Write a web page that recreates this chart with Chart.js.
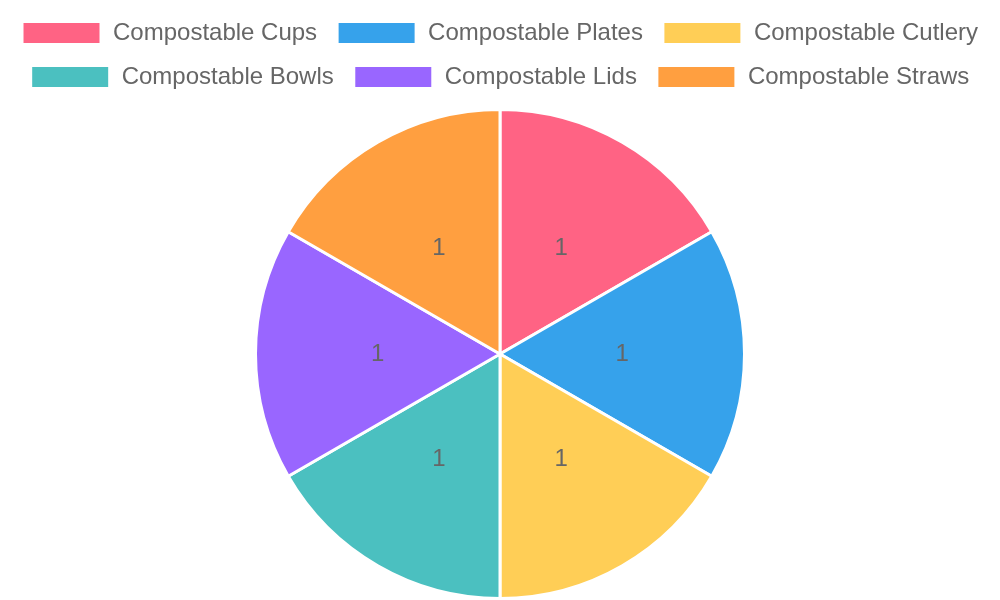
<!DOCTYPE html>
<html>
<head>
<meta charset="utf-8">
<script src="https://cdn.jsdelivr.net/npm/chart.js@4"></script>
<style>
  html, body { margin: 0; padding: 0; background: #fff; }
  #wrap { width: 1000px; height: 600px; }
</style>
</head>
<body>
<div id="wrap"><canvas id="canvas"></canvas></div>
<script>
var labels = ["Compostable Cups", "Compostable Plates", "Compostable Cutlery", "Compostable Bowls", "Compostable Lids", "Compostable Straws"];
var values = [1, 1, 1, 1, 1, 1];
var colors = ["#FF6384", "#36A2EB", "#FFCE56", "#4BC0C0", "#9966FF", "#FF9F40"];

// draw the value in the middle of each slice
var sliceLabels = {
    id: 'sliceLabels',
    afterDatasetsDraw: function (chart) {
        var ctx = chart.ctx;
        var meta = chart.getDatasetMeta(0);
        ctx.save();
        ctx.font = '24px "Liberation Sans", Arial, sans-serif';
        ctx.fillStyle = '#666';
        ctx.textAlign = 'center';
        ctx.textBaseline = 'middle';
        meta.data.forEach(function (arc, i) {
            var p = arc.tooltipPosition();
            ctx.fillText(String(values[i]), p.x, p.y);
        });
        ctx.restore();
    }
};

// a little extra room under the legend
var legendMargin = {
    id: 'legendMargin',
    beforeInit: function (chart) {
        var fit = chart.legend.fit;
        chart.legend.fit = function () {
            fit.bind(chart.legend)();
            this.height += 9;
        };
    }
};

Chart.defaults.font.family = '"Liberation Sans", Arial, sans-serif';
Chart.defaults.color = '#666';

var ctx = document.getElementById("canvas").getContext("2d");
var pChart = new Chart(ctx, {
    type: 'pie',
    data: {
        labels: labels,
        datasets: [{
            data: values,
            backgroundColor: colors,
            borderColor: '#fff',
            borderWidth: 3
        }]
    },
    options: {
        responsive: true,
        maintainAspectRatio: false,
        animation: false,
        layout: { padding: { top: 1, bottom: 0 } },
        plugins: {
            legend: {
                position: 'top',
                labels: {
                    font: { size: 24 },
                    boxWidth: 79,
                    boxHeight: 23,
                    padding: 20,
                    color: '#666'
                }
            },
            tooltip: { enabled: false }
        }
    },
    plugins: [sliceLabels, legendMargin]
});
</script>
</body>
</html>
